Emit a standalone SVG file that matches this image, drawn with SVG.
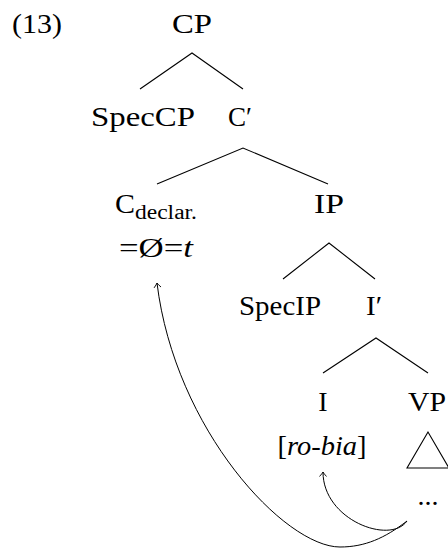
<svg xmlns="http://www.w3.org/2000/svg" width="448" height="548" viewBox="0 0 448 548">
<defs>
<style>
text{font-family:"Liberation Serif","DejaVu Serif",serif;font-size:28px;fill:#000}
.m{text-anchor:middle}
.sub{font-size:20px}
.it{font-style:italic}
.edge{stroke:#000;stroke-width:1.1;fill:none}
.mv{stroke:#000;stroke-width:1;fill:none}
</style>
<marker id="ah" viewBox="-6 -5 8 10" markerWidth="8" markerHeight="10" refX="0" refY="0" orient="auto" markerUnits="userSpaceOnUse">
<path d="M-4.5,-3.5 Q-1.5,-0.8 0,0 Q-1.5,0.8 -4.5,3.5" stroke="#000" stroke-width="0.9" fill="none"/>
</marker>
</defs>
<text x="12" y="33" textLength="50" lengthAdjust="spacingAndGlyphs">(13)</text>
<g id="CP"><text class="m" x="192" y="33" textLength="40" lengthAdjust="spacingAndGlyphs">CP</text></g>
<g id="SpecCP"><text class="m" x="143" y="126" textLength="104" lengthAdjust="spacingAndGlyphs">SpecCP</text></g>
<g id="Cbar"><text class="m" x="240" y="126" textLength="24" lengthAdjust="spacingAndGlyphs">C′</text></g>
<g id="C"><text x="115" y="213"><tspan textLength="20" lengthAdjust="spacingAndGlyphs">C</tspan><tspan class="sub" dy="6" textLength="62" lengthAdjust="spacingAndGlyphs">declar.</tspan></text>
<text class="m" x="156" y="257" textLength="74" lengthAdjust="spacingAndGlyphs">=Ø=<tspan class="it">t</tspan></text></g>
<g id="IP"><text class="m" x="329" y="213" textLength="30" lengthAdjust="spacingAndGlyphs">IP</text></g>
<g id="SpecIP"><text class="m" x="280" y="315" textLength="82" lengthAdjust="spacingAndGlyphs">SpecIP</text></g>
<g id="Ibar"><text class="m" x="374" y="315" textLength="16" lengthAdjust="spacingAndGlyphs">I′</text></g>
<g id="I"><text class="m" x="323" y="411">I</text>
<text class="m" x="322" y="455" textLength="89" lengthAdjust="spacingAndGlyphs">[<tspan class="it">ro-bia</tspan>]</text></g>
<g id="VP"><text class="m" x="427" y="411" textLength="38" lengthAdjust="spacingAndGlyphs">VP</text>
<path class="edge" d="M428,432 L407,468 L449,468 Z"/>
<text class="m" x="428" y="505">...</text></g>
<g id="connectors">
<path class="edge" d="M140,89 L192,53 L243,89"/>
<path class="edge" d="M157,184 L243,148 L328,184"/>
<path class="edge" d="M283,279 L329,243 L375,279"/>
<path class="edge" d="M323,373 L376,338 L428,373"/>
<path class="mv" marker-end="url(#ah)" d="M407,521 C385,538 365,547 340,547 C285,547 175,430 157,283"/>
<path class="mv" marker-end="url(#ah)" d="M407,521 C390,545 323,520 323,472"/>
</g>
</svg>
